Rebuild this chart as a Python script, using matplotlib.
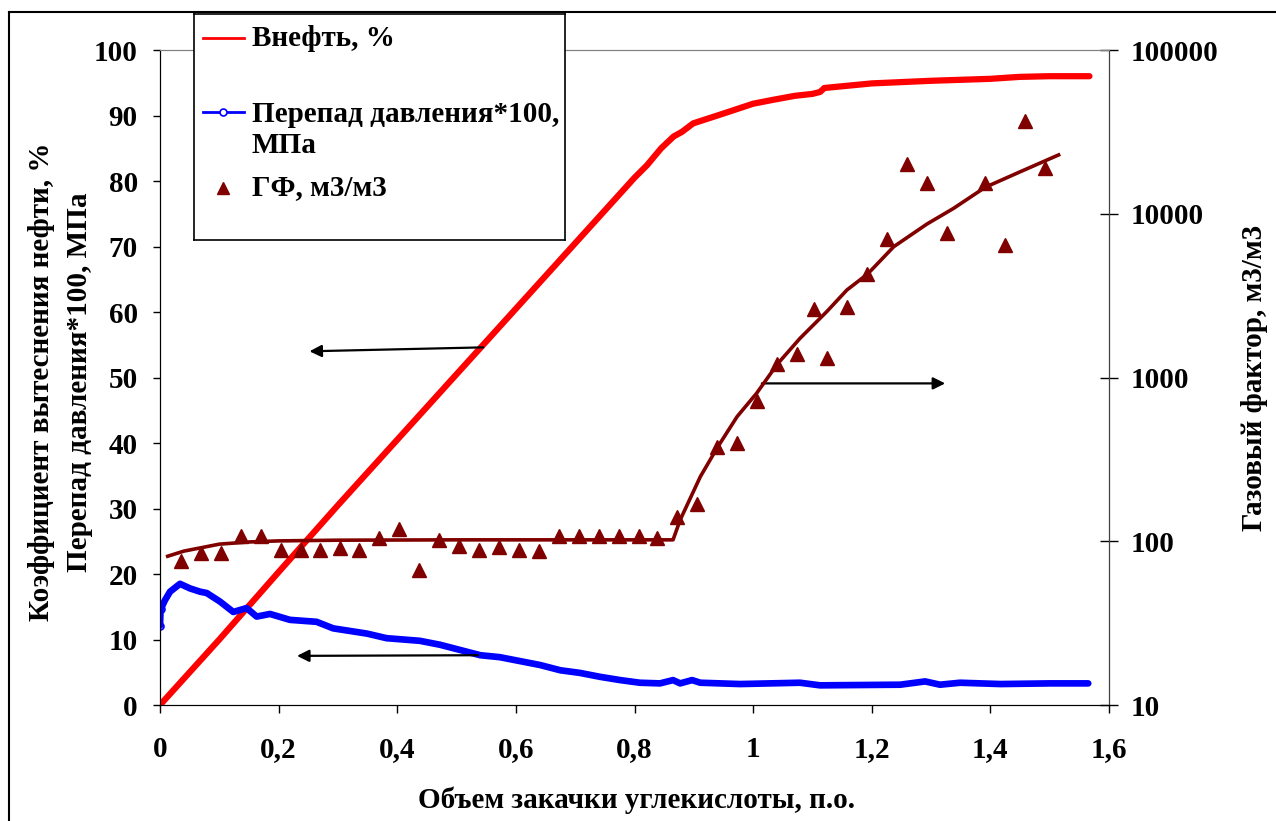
import numpy as np
import matplotlib
matplotlib.use('Agg')
import matplotlib.pyplot as plt
from matplotlib.lines import Line2D

plt.rcParams['font.family'] = ['Liberation Serif', 'DejaVu Serif']
plt.rcParams['font.weight'] = 'bold'

# --- данные ---
# Внефть, %
oil_x = [0, 0.1, 0.2, 0.3, 0.4, 0.5, 0.6, 0.7, 0.8, 0.821, 0.845, 0.866, 0.88, 0.899,
         0.95, 1.0, 1.034, 1.07, 1.1, 1.113, 1.12, 1.2, 1.3, 1.4, 1.45, 1.5, 1.567]
oil_y = [0, 10, 20.3, 30.5, 40.5, 50.5, 60.5, 70.5, 80.5, 82.4, 85, 86.8, 87.5, 88.8,
         90.3, 91.8, 92.4, 93, 93.3, 93.6, 94.2, 94.9, 95.3, 95.6, 95.9, 96, 96]

# Перепад давления*100, МПа
dp_x = [0, 0.001, 0.0084, 0.0169, 0.0337, 0.0506, 0.0675, 0.0787, 0.101, 0.1236, 0.146,
        0.163, 0.1855, 0.219, 0.264, 0.292, 0.349, 0.382, 0.438, 0.472, 0.506, 0.540,
        0.573, 0.607, 0.641, 0.675, 0.708, 0.742, 0.776, 0.809, 0.843, 0.865, 0.877,
        0.897, 0.911, 0.978, 1.079, 1.113, 1.248, 1.29, 1.315, 1.349, 1.417, 1.50, 1.565]
dp_y = [12.1, 14.6, 16.0, 17.3, 18.5, 17.8, 17.3, 17.1, 15.8, 14.2, 14.8,
        13.5, 13.9, 13.0, 12.7, 11.7, 10.9, 10.2, 9.8, 9.2, 8.4, 7.6,
        7.3, 6.7, 6.1, 5.3, 4.9, 4.3, 3.8, 3.4, 3.3, 3.8, 3.3,
        3.8, 3.4, 3.2, 3.4, 3.0, 3.1, 3.6, 3.1, 3.4, 3.2, 3.3, 3.3]

# ГФ, м3/м3
gf_x = [0.0354, 0.0691, 0.1029, 0.1366, 0.1703, 0.2040, 0.2378, 0.2698, 0.3035, 0.3356,
        0.3693, 0.4031, 0.4368, 0.4705, 0.5042, 0.5379, 0.5717, 0.6054, 0.6391, 0.6728,
        0.7066, 0.7403, 0.7740, 0.8078, 0.8381, 0.8718, 0.9051, 0.9398, 0.9735, 1.0073,
        1.0410, 1.0747, 1.1029, 1.1253, 1.1590, 1.1928, 1.2255, 1.2592, 1.2929, 1.3267,
        1.3912, 1.4255, 1.4592, 1.4929]
gf_y = [75.7, 84.8, 84.8, 107.6, 107.6, 88.5, 88.5, 88.5, 91.0, 88.5,
        104.7, 118.9, 66.7, 101.8, 93.6, 88.5, 92.3, 88.5, 87.2, 107.6,
        107.6, 107.6, 107.6, 107.6, 104.7, 140.6, 168.8, 375, 400, 721,
        1208, 1392, 2633, 1315, 2685, 4289, 6981, 20170, 15360, 7603,
        15360, 6471, 37000, 19100]

# линия тренда ГФ
tr_x = [0.013, 0.04, 0.1, 0.15, 0.2, 0.3, 0.5, 0.865, 0.877, 0.911, 0.940, 0.973,
        1.006, 1.041, 1.079, 1.124, 1.158, 1.193, 1.237, 1.293, 1.338, 1.391, 1.450, 1.515]
tr_y = [81, 87, 96, 99, 100.5, 101.5, 102, 102, 135, 248, 375, 577,
        802, 1209, 1734, 2522, 3420, 4285, 6290, 8650, 10790, 14490, 18030, 22870]

xticks = [0, 0.2, 0.4, 0.6, 0.8, 1.0, 1.2, 1.4, 1.6]
xticklabels = ['0', '0,2', '0,4', '0,6', '0,8', '1', '1,2', '1,4', '1,6']

W, H = 1276, 821
fig = plt.figure(figsize=(W / 100, H / 100), dpi=100)
ax = fig.add_axes([160 / W, 1 - 705 / H, (1109 - 160) / W, (705 - 50) / H])
ax2 = ax.twinx()

DR = '#800000'
ax.plot(oil_x, oil_y, color='#ff0000', lw=4.5, solid_capstyle='round', zorder=3)
ax.plot(dp_x, dp_y, color='#0000ff', lw=4.8, solid_capstyle='round', zorder=3)
ax.plot(dp_x[:2], dp_y[:2], 'o', color='#0000ff', mfc='none', ms=5, mew=1.2, zorder=3)

ax2.plot(tr_x, tr_y, color=DR, lw=2.6, zorder=2)
ax2.plot(gf_x, gf_y, '^', color=DR, ms=10, lw=0, zorder=3)
ax2.set_yscale('log')
ax2.set_ylim(10, 100000)
ax2.set_yticks([10, 100, 1000, 10000, 100000])
ax2.set_yticklabels(['10', '100', '1000', '10000', '100000'])
ax2.minorticks_off()

ax.set_xlim(0, 1.6)
ax.set_ylim(0, 100)
ax.set_yticks(range(0, 101, 10))
ax.set_xticks(xticks)
ax.set_xticklabels(xticklabels)

fs = 21
ax.tick_params(axis='y', direction='out', length=5, width=1, pad=11, labelsize=fs)
ax.tick_params(axis='x', direction='out', length=6, width=1, pad=16, labelsize=fs)
ax2.tick_params(axis='y', direction='inout', length=13, width=1, pad=9, labelsize=fs)
for t in ax.get_xticklabels() + ax.get_yticklabels() + ax2.get_yticklabels():
    t.set_fontweight('bold')

ax.spines['top'].set_color('#808080')
ax2.spines['top'].set_color('#808080')
ax2.spines['right'].set_color('#404040')

# подписи осей
fig.text(60.5 / W, 1 - 382 / H, 'Коэффициент вытеснения нефти, %\nПерепад давления*100, МПа',
         rotation=90, ha='center', va='center', fontsize=fs, fontweight='bold',
         linespacing=1.55, multialignment='center')
fig.text(1254 / W, 1 - 378 / H, 'Газовый фактор, м3/м3', rotation=90,
         ha='center', va='center', fontsize=fs, fontweight='bold')
fig.text(636 / W, 1 - 800 / H, 'Объем закачки углекислоты, п.о.',
         ha='center', va='center', fontsize=fs, fontweight='bold')

# стрелки
arr = dict(arrowstyle='-|>', color='black', lw=1.6, mutation_scale=18, shrinkA=0, shrinkB=0)
ax.annotate('', xy=(0.252, 54.0), xytext=(0.545, 54.6), arrowprops=arr, zorder=5)
ax.annotate('', xy=(0.231, 7.5), xytext=(0.536, 7.6), arrowprops=arr, zorder=5)
ax.annotate('', xy=(1.3238, 49.1), xytext=(1.0147, 49.1), arrowprops=arr, zorder=5)

# легенда
lx0, lx1, ly0, ly1 = 194, 565, 14, 240
lax = fig.add_axes([lx0 / W, 1 - ly1 / H, (lx1 - lx0) / W, (ly1 - ly0) / H])
lax.set_xlim(lx0, lx1)
lax.set_ylim(ly1, ly0)
lax.set_xticks([])
lax.set_yticks([])
for s in lax.spines.values():
    s.set_linewidth(1.2)
lax.plot([203, 244], [38, 38], color='#ff0000', lw=2)
lax.plot([203, 244], [112, 112], color='#0000ff', lw=2)
lax.plot([223], [112], 'o', color='#0000ff', mfc='white', ms=5, mew=1.2)
lax.plot([223], [188], '^', color=DR, ms=9)
lax.text(252, 38, 'Внефть, %', fontsize=fs, fontweight='bold', va='center')
lax.text(252, 130, 'Перепад давления*100,\nМПа', fontsize=fs, fontweight='bold',
         va='center', linespacing=1.2)
lax.text(252, 188, 'ГФ, м3/м3', fontsize=fs, fontweight='bold', va='center')

# рамка рисунка
fig.add_artist(Line2D([9 / W, 9 / W], [0, 1 - 12 / H], transform=fig.transFigure, color='black', lw=1.5))
fig.add_artist(Line2D([9 / W, 1], [1 - 12 / H, 1 - 12 / H], transform=fig.transFigure, color='black', lw=1.5))

fig.savefig('out.png', dpi=100)
